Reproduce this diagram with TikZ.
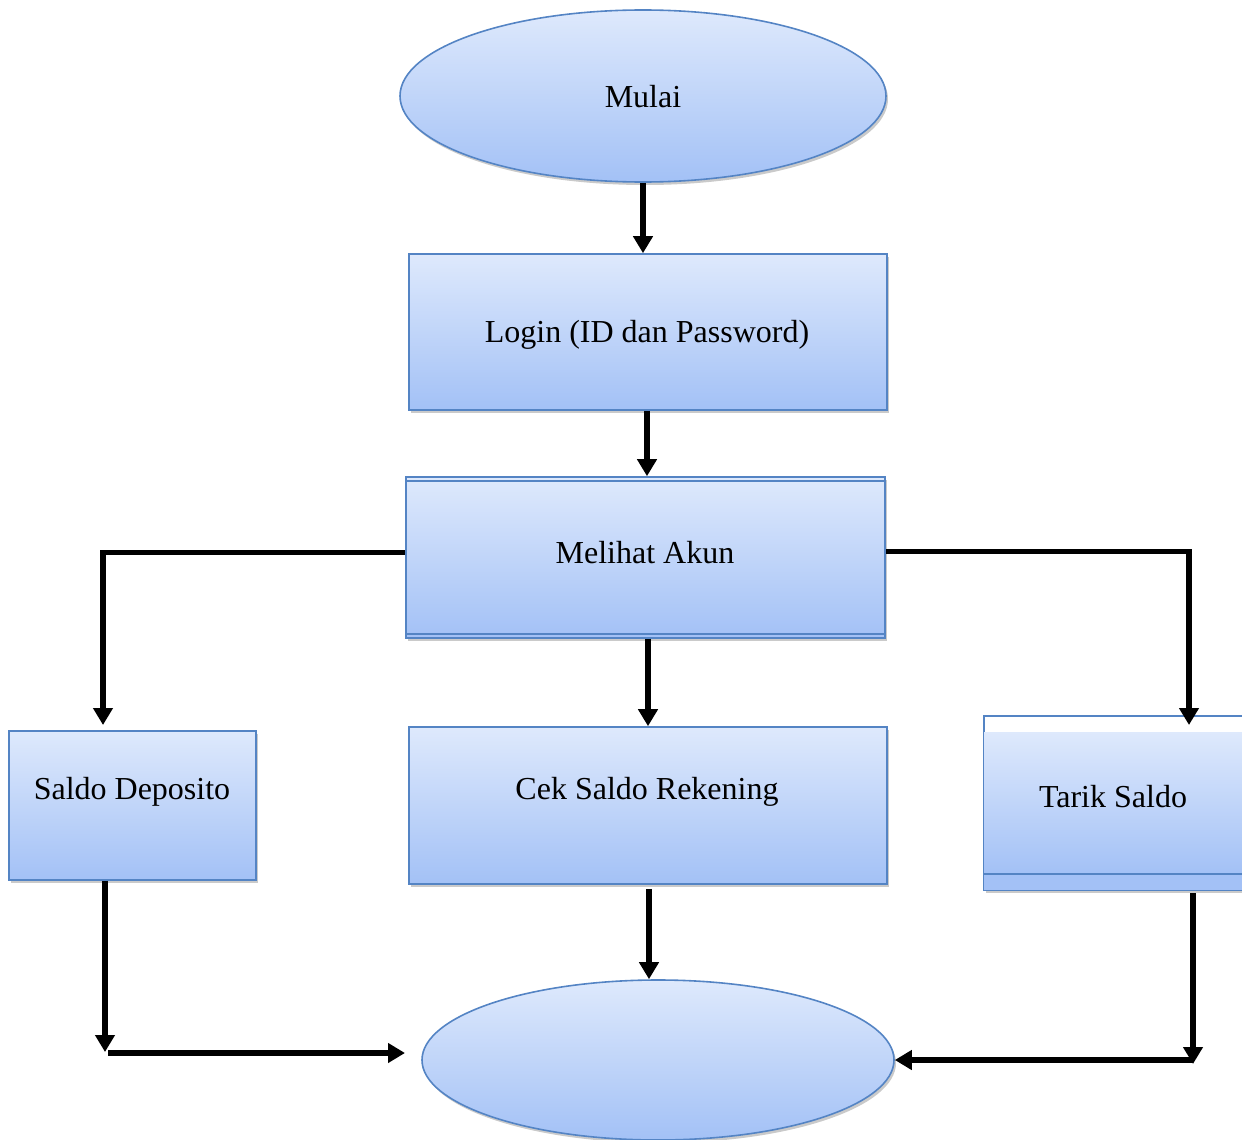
\documentclass[tikz,border=0pt]{standalone}
\usepackage{fontspec}
\setmainfont{Liberation Serif}
\usetikzlibrary{shapes.geometric,arrows.meta,shadows,calc}
\definecolor{boxline}{RGB}{84,132,196}
\definecolor{gtop}{RGB}{222,233,252}
\definecolor{gbot}{RGB}{163,193,246}
\tikzset{
  shade/.style={drop shadow={opacity=0.35,shadow xshift=2pt,shadow yshift=-3pt,fill=black!60}},
  procbox/.style={draw=boxline, line width=1.6pt, top color=gtop, bottom color=gbot,
    inner sep=0pt, shade},
  term/.style={ellipse, draw=boxline, line width=1.6pt, top color=gtop, bottom color=gbot,
    inner sep=0pt, shade},
  arr/.style={line width=5.5pt, -{Triangle[length=17pt,width=19pt]}},
  txt/.style={font=\fontsize{32}{38}\selectfont}
}
\begin{document}
\begin{tikzpicture}[x=1pt,y=-1pt]
\useasboundingbox (0,0) rectangle (1242,1140);
\clip (0,0) rectangle (1242,1140);

% terminals
\node[term, minimum width=486pt, minimum height=172pt] (mulai) at (643,96) {};
\node[txt] (mulai-t) at (643,97) {Mulai};
\node[term, minimum width=472pt, minimum height=160pt] (selesai) at (658,1060) {};

% process boxes
\node[procbox, minimum width=478pt, minimum height=156pt] (login) at (648,332) {};
\node[txt] (login-t) at (647,335) {Login (ID dan Password)};

\node[procbox, minimum width=479pt, minimum height=161pt] (akun) at (645.5,557.5) {};
\draw[boxline, line width=1.6pt] ($(akun.north west)+(0,5)$) -- ($(akun.north east)+(0,5)$);
\draw[boxline, line width=1.6pt] ($(akun.south west)+(0,-5)$) -- ($(akun.south east)+(0,-5)$);
\node[txt] (akun-t) at (645,553) {Melihat Akun};

\node[procbox, minimum width=247pt, minimum height=149pt] (dep) at (132.5,805.5) {};
\node[txt] (dep-t) at (132,792) {Saldo Deposito};

\node[procbox, minimum width=478pt, minimum height=157pt] (cek) at (648,805.5) {};
\node[txt] (cek-t) at (647,792) {Cek Saldo Rekening};

% withdrawal box: white top band, shaded body, blue foot band
\node[draw=boxline, line width=1.6pt, fill=white, inner sep=0pt, shade,
      minimum width=300pt, minimum height=174pt] (tarik) at (1134,803) {};
\fill[top color=gtop, bottom color=gbot] ($(tarik.north west)+(0.8,17)$) rectangle ($(tarik.south east)+(0,-17)$);
\fill[gbot] ($(tarik.south west)+(0.8,-17)$) rectangle ($(tarik.south east)+(0,-0.8)$);
\draw[boxline, line width=1.6pt] ($(tarik.south west)+(0,-17)$) -- ($(tarik.south east)+(0,-17)$);
\node[txt] (tarik-t) at (1113,797) {Tarik Saldo};

% connectors
\coordinate (c1) at (mulai.south);
\draw[arr] (c1) -- (c1 |- login.north);
\coordinate (c2) at ($(login.south)+(-1,0)$);
\draw[arr] (c2) -- (c2 |- akun.north);
\coordinate (depin) at (103,725);
\draw[arr] ($(akun.west)+(0,-5)$) -| (depin);
\coordinate (tarikin) at (1189,725);
\draw[arr] ($(akun.east)+(0,-6)$) -| (tarikin);
\coordinate (c3) at ($(akun.south)+(2.5,0)$);
\draw[arr] (c3) -- (c3 |- cek.north);
\coordinate (c4) at ($(cek.south)+(1,4)$);
\draw[arr] (c4) -- (c4 |- selesai.north);

\coordinate (dl) at (105,1052);
\draw[arr] (dep.south -| dl) -- (dl);
\coordinate (dr0) at (108,1053);
\coordinate (dr1) at (405,1053);
\draw[arr] (dr0) -- (dr1);

\coordinate (tt) at (1193,893);
\coordinate (tb) at (1193,1064);
\draw[arr] (tt) -- (tb);
\coordinate (tr) at (1193,1060);
\draw[arr] (selesai.east -| tr) -- (selesai.east);
\end{tikzpicture}
\end{document}
